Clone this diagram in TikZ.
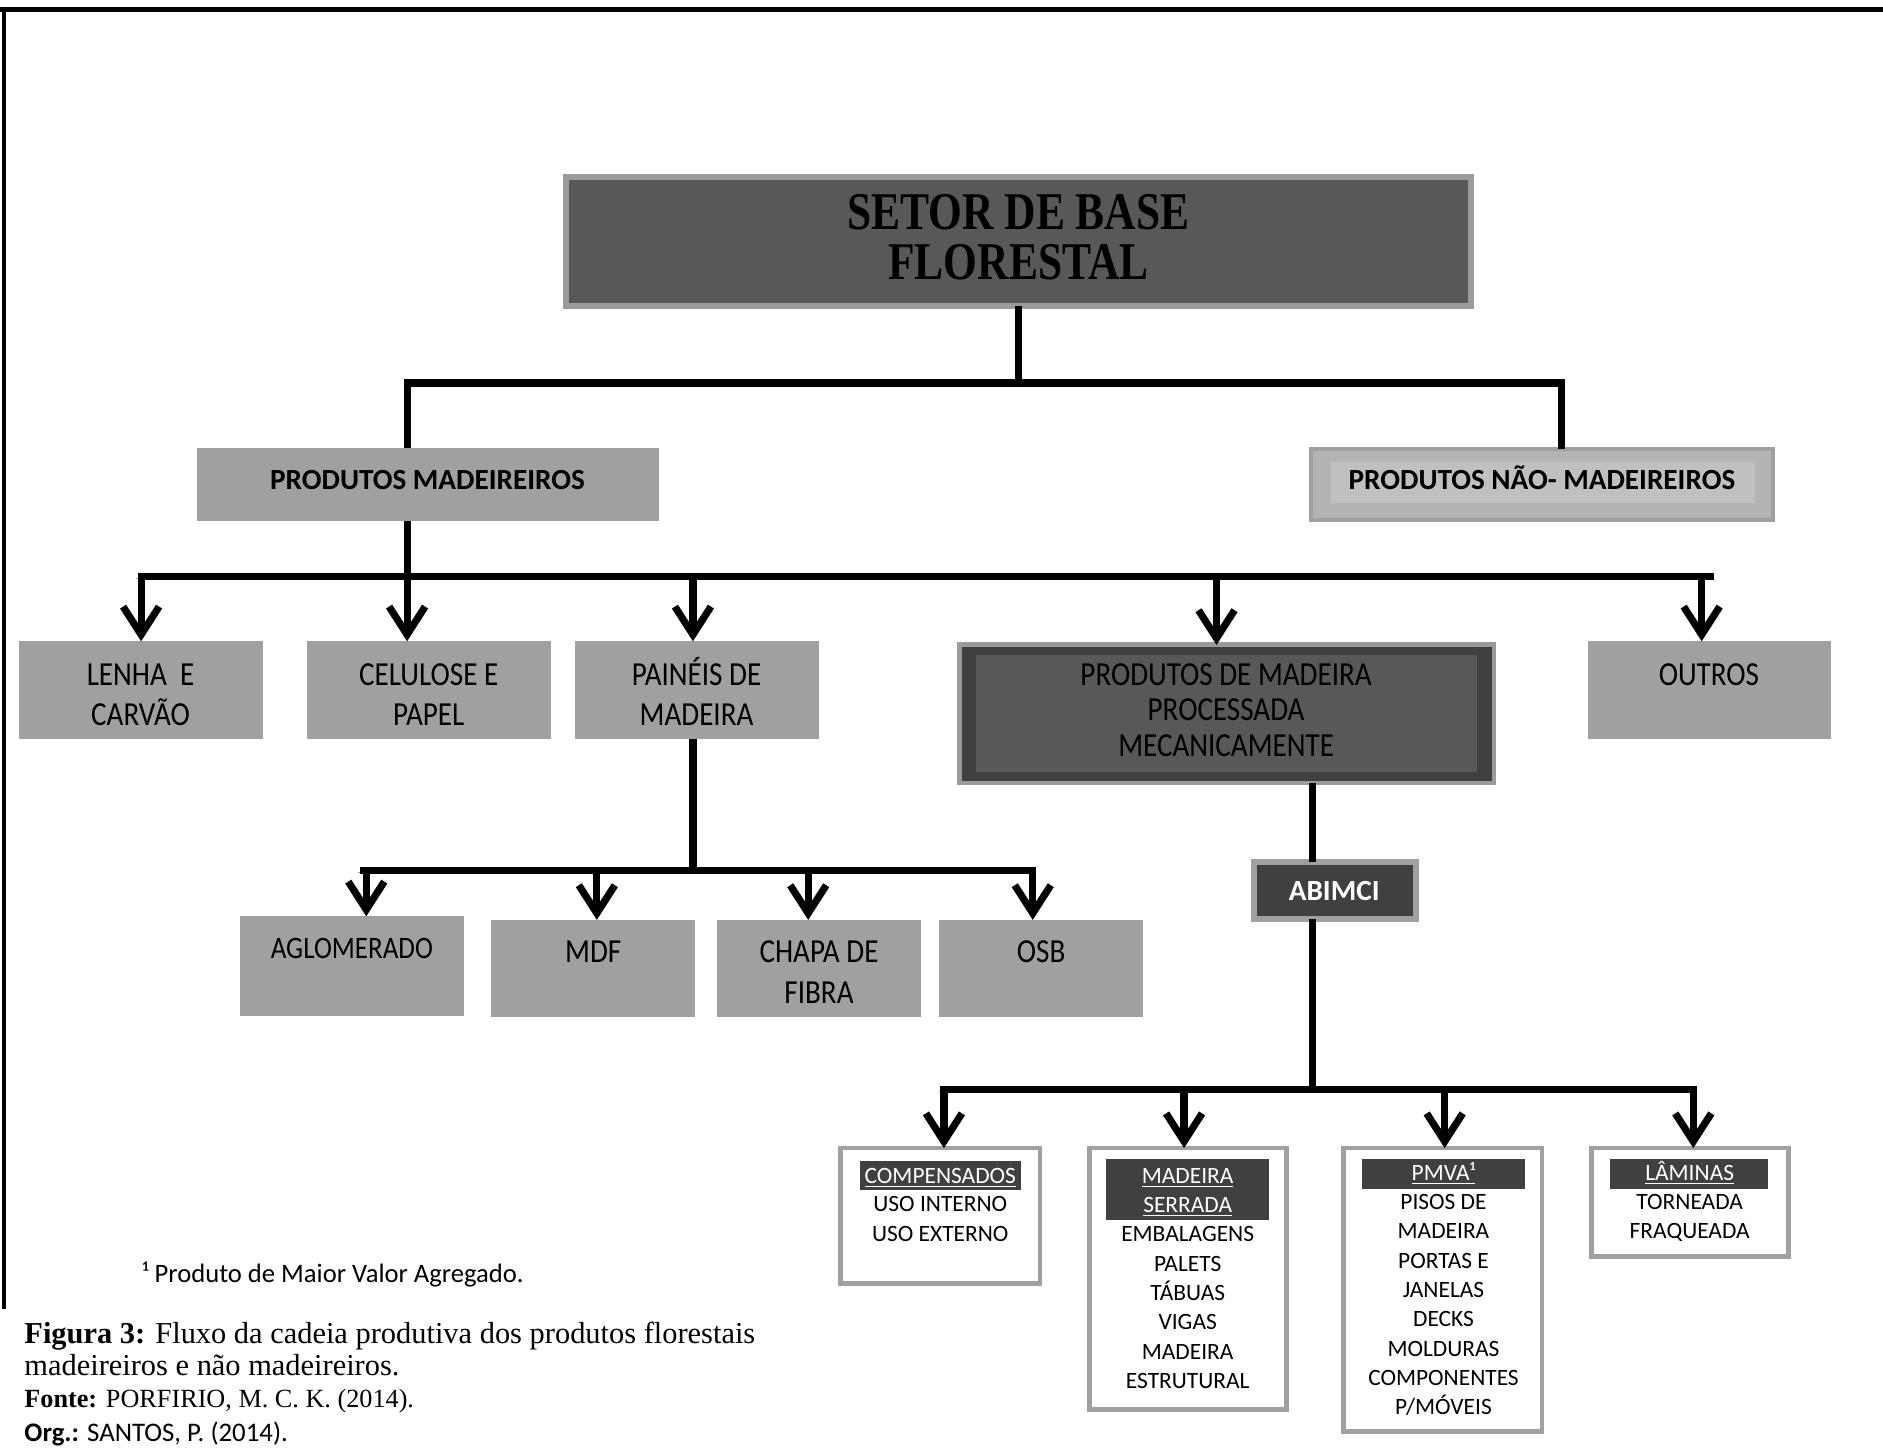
\documentclass[tikz,border=0pt]{standalone}
\usepackage{fontspec}
\setmainfont{Carlito}
\newfontfamily\calnar[FakeStretch=0.865]{Carlito}
\newfontfamily\tmsnar[FakeStretch=0.82]{Liberation Serif}
\newfontfamily\tms{Liberation Serif}
\usetikzlibrary{arrows.meta}
\definecolor{gA0}{HTML}{A0A0A0}
\definecolor{g9A}{HTML}{9A9A9A}
\definecolor{g58}{HTML}{585858}
\definecolor{g40}{HTML}{404040}
\definecolor{gB4}{HTML}{B4B4B4}
\definecolor{gC0}{HTML}{C0C0C0}

% box from its corners (x1,y1) (x2,y2), in the picture's units
\newcommand\bx[6]{\node[#6, minimum width={(#4-#2)*0.6pt}, minimum height={(#5-#3)*0.6pt}] (#1) at ({(#2+#4)/2},{(#3+#5)/2}) {};}
% centred lines of text: name, style, x, y of first line, line step, lines
\newcommand\textlines[6]{\foreach \t [count=\i] in {#6} {\node[#2] (#1-\i) at (#3,{#4+(\i-1)*#5}) {\t};}}

\begin{document}
\begin{tikzpicture}[x=0.6pt,y=-0.6pt,
  box/.style={rectangle, inner sep=0pt, outer sep=0pt, fill=gA0},
  framed/.style={box, fill=white, draw=gA0, line width=2.4pt},
  hdrbar/.style={box, fill=g40},
  lvl/.style={font=\calnar\fontsize{16.8}{19.8}\selectfont, inner sep=0pt, text height=10.6pt, text depth=0pt},
  sml/.style={font=\fontsize{11.7}{14.6}\selectfont, inner sep=0pt, text height=7.4pt, text depth=0pt},
  hdr/.style={sml, text=white},
  bld/.style={font=\bfseries\fontsize{14.6}{17}\selectfont, inner sep=0pt, text height=9.2pt, text depth=0pt},
  titlefont/.style={font=\tmsnar\bfseries\fontsize{26.5}{30}\selectfont, inner sep=0pt, text height=17.3pt, text depth=0pt},
  captxt/.style={anchor=west, inner sep=0pt, text depth=0pt},
  conn/.style={line width=3.6pt, draw=black, line join=miter,
    preaction={draw=black!38, transform canvas={shift={(-0.9pt,-1.1pt)}}}},
  arr/.style={conn, -{Straight Barb[length=14pt,width=18pt]}},
]
\useasboundingbox (0,0) rectangle (1568,1210);
\fill[white] (0,0) rectangle (1568,1210);

% page frame: top rule and left rule
\draw[line width=2.5pt] (0,8) coordinate (ftl) -- (1568,8) coordinate (ftr);
\draw[line width=2pt] (3,8) coordinate (fl1) -- (3,1090) coordinate (fl2);

% ---------- boxes ----------
\bx{setor}{471}{147}{1225}{255}{box, fill=g58, draw=g9A, line width=3pt}
\bx{pm}{164}{373}{549}{434}{box}
\bx{pnm}{1092}{374}{1476}{433}{box, fill=gB4, draw=gA0, line width=2pt}
\fill[gC0] (1108,385) rectangle (1461,419);
\bx{lenha}{16}{534}{219}{615}{box}
\bx{celulose}{256}{534}{459}{615}{box}
\bx{paineis}{479}{534}{682}{615}{box}
\bx{pdm}{799}{537}{1244}{652}{box, fill=g40, draw=g9A, line width=2.4pt}
\fill[g58] (813,545) rectangle (1230,643);
\bx{outros}{1322}{534}{1525}{615}{box}
\bx{aglo}{200}{763}{386}{846}{box}
\bx{mdf}{409}{766}{579}{847}{box}
\bx{chapa}{597}{766}{767}{847}{box}
\bx{osb}{782}{766}{952}{847}{box}
\bx{abimci}{1044}{718}{1179}{765}{box, fill=g40, draw=gA0, line width=3pt}
\bx{comp}{700}{956}{866}{1069}{framed}
\bx{ms}{907}{956}{1071}{1174}{framed}
\bx{pmva}{1119}{956}{1284}{1192}{framed}
\bx{lam}{1325}{956}{1489}{1046}{framed}
\bx{comph}{716}{967}{850}{991}{hdrbar}
\bx{msh}{921}{965}{1057}{1016}{hdrbar}
\bx{pmvah}{1134}{965}{1270}{990}{hdrbar}
\bx{lamh}{1341}{965}{1472}{990}{hdrbar}

% ---------- texts ----------
\textlines{setort}{titlefont}{848}{177}{41}{SETOR DE BASE, FLORESTAL}
\node[bld] (pmt) at (356,400) {PRODUTOS MADEIREIROS};
\node[bld] (pnmt) at (1284,400) {PRODUTOS NÃO- MADEIREIROS};
\textlines{lenhat}{lvl}{117}{562}{33}{LENHA\ \ E, CARVÃO}
\textlines{celuloset}{lvl}{357}{562}{33}{CELULOSE E, PAPEL}
\textlines{paineist}{lvl}{580}{562}{33}{PAINÉIS DE, MADEIRA}
\textlines{pdmt}{lvl}{1021}{562}{29.5}{PRODUTOS DE MADEIRA, PROCESSADA, MECANICAMENTE}
\node[lvl] (outrost) at (1423,562) {OUTROS};
\node[lvl, font=\calnar\fontsize{15.6}{18}\selectfont, text height=9.9pt] (aglot) at (293,790) {AGLOMERADO};
\node[lvl] (mdft) at (494,793) {MDF};
\textlines{chapat}{lvl}{682}{793}{34}{CHAPA DE, FIBRA}
\node[lvl] (osbt) at (867,793) {OSB};
\node[bld, text=white] (abimcit) at (1111,742) {ABIMCI};

\node[hdr] (compht) at (783,979) {\underline{COMPENSADOS}};
\textlines{compt}{sml}{783}{1003}{24.6}{USO INTERNO, USO EXTERNO}
\textlines{msht}{hdr}{989}{979}{24.4}{\underline{MADEIRA}, \underline{SERRADA}}
\textlines{mst}{sml}{989}{1028}{24.4}{EMBALAGENS, PALETS, TÁBUAS, VIGAS, MADEIRA, ESTRUTURAL}
\node[hdr] (pmvaht) at (1202,977) {\underline{PMVA¹}};
\textlines{pmvat}{sml}{1202}{1001}{24.4}{PISOS DE, MADEIRA, PORTAS E, JANELAS, DECKS, MOLDURAS, COMPONENTES, P/MÓVEIS}
\node[hdr] (lamht) at (1407,977) {\underline{LÂMINAS}};
\textlines{lamt}{sml}{1407}{1001}{24.4}{TORNEADA, FRAQUEADA}

\node[captxt, font=\fontsize{13.3}{16}\selectfont, text height=8.4pt] (note) at (118,1061) {¹ Produto de Maior Valor Agregado.};
\node[captxt, font=\tms\fontsize{15.2}{18}\selectfont, text height=10pt] (cap1) at (20,1110) {\textbf{Figura 3:} Fluxo da cadeia produtiva dos produtos florestais};
\node[captxt, font=\tms\fontsize{15.2}{18}\selectfont, text height=10pt] (cap2) at (20,1137) {madeireiros e não madeireiros.};
\node[captxt, font=\tms\fontsize{13.1}{15}\selectfont, text height=8.6pt] (cap3) at (20,1165) {\textbf{Fonte:} PORFIRIO, M. C. K. (2014).};
\node[captxt, font=\fontsize{13.4}{15}\selectfont, text height=8.5pt] (cap4) at (20,1193) {\textbf{Org.:} SANTOS, P. (2014).};

% ---------- connectors ----------
\coordinate (busA) at (0,319);
\coordinate (busB) at (0,480);
\coordinate (busC) at (0,725);
\coordinate (busD) at (0,907);

\coordinate (pmin) at ([xshift=-10.5pt]pm.north);
\coordinate (pmout) at ([xshift=-10.5pt]pm.south);
\coordinate (pnmin) at ([xshift=9.6pt]pnm.north);
\draw[conn] (setor.south) -- (setor.south |- busA);
\draw[conn] (pmin) -- (pmin |- busA) -- (pnmin |- busA) -- (pnmin);

\coordinate (aL) at (lenha.north);
\coordinate (aC) at ([xshift=-11.1pt]celulose.north);
\coordinate (aP) at ([xshift=-2.1pt]paineis.north);
\coordinate (aD) at ([xshift=-5.1pt]pdm.north);
\coordinate (aO) at ([xshift=-3.9pt]outros.north);
\draw[conn] (pmout) -- (pmout |- busB);
\draw[conn] ([xshift=-1.8pt]aL |- busB) -- ([xshift=6.3pt]aO |- busB);
\foreach \a in {aL,aC,aP,aD,aO} \draw[arr] (\a |- busB) -- (\a);

\coordinate (pout) at ([xshift=-2.1pt]paineis.south);
\coordinate (a1) at ([xshift=7.2pt]aglo.north);
\coordinate (a2) at ([xshift=1.8pt]mdf.north);
\coordinate (a3) at ([xshift=-5.4pt]chapa.north);
\coordinate (a4) at ([xshift=-4.2pt]osb.north);
\draw[conn] (pout) -- (pout |- busC);
\draw[conn] ([xshift=-3pt]a1 |- busC) -- ([xshift=1.8pt]a4 |- busC);
\foreach \a in {a1,a2,a3,a4} \draw[arr] (\a |- busC) -- (\a);

\coordinate (dout) at ([xshift=42.9pt]pdm.south);
\draw[conn] (dout) -- (dout |- abimci.north);
\draw[conn] (dout |- abimci.south) -- (dout |- busD);
\coordinate (b1) at ([xshift=1.8pt]comp.north);
\coordinate (b2) at ([xshift=-1.8pt]ms.north);
\coordinate (b3) at ([xshift=0.9pt]pmva.north);
\coordinate (b4) at ([xshift=1.8pt]lam.north);
\draw[conn] ([xshift=-1.8pt]b1 |- busD) -- ([xshift=1.8pt]b4 |- busD);
\foreach \a in {b1,b2,b3,b4} \draw[arr] (\a |- busD) -- (\a);
\end{tikzpicture}
\end{document}
